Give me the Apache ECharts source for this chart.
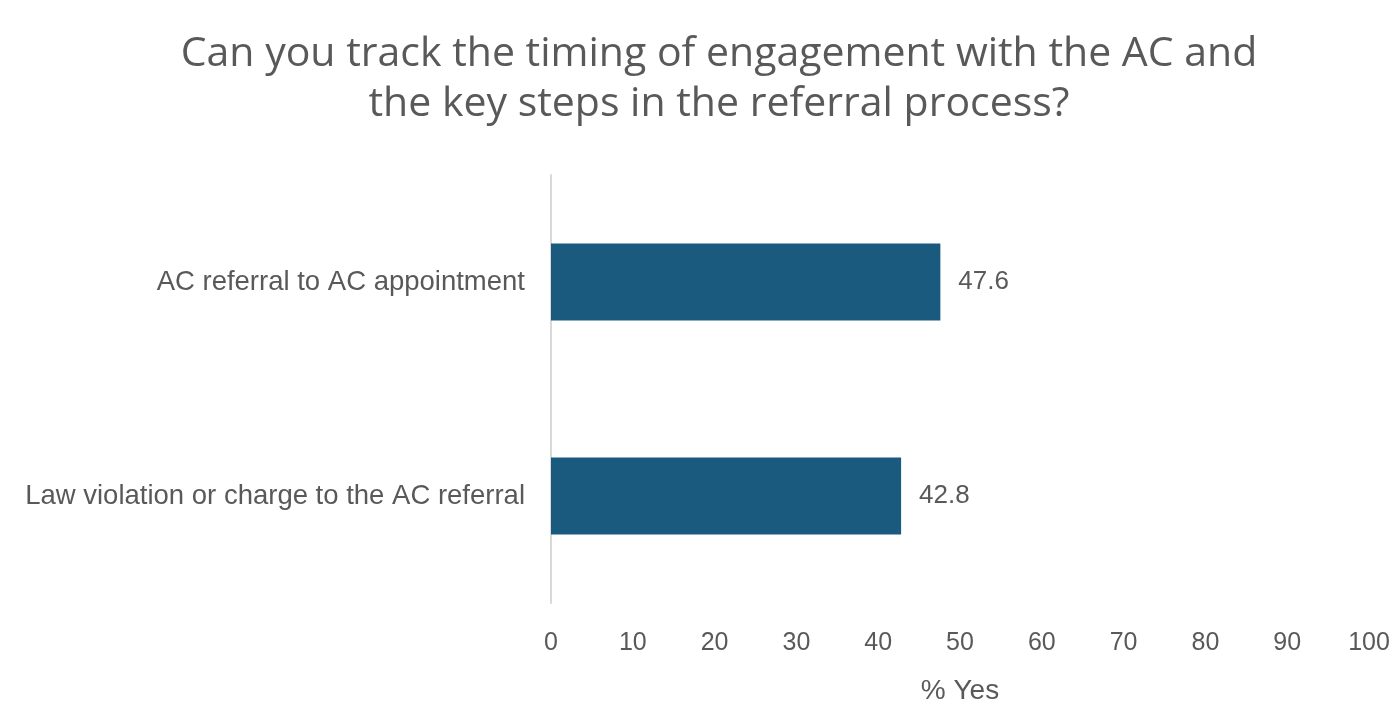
<!DOCTYPE html>
<html>
<head>
<meta charset="utf-8">
<script src="https://cdn.jsdelivr.net/npm/echarts@6/dist/echarts.min.js"></script>
<style>
  html, body { margin: 0; padding: 0; background: #ffffff; }
  #chart { width: 1398px; height: 710px; }
</style>
</head>
<body>
<div id="chart"></div>
<script>
// Survey question shown as the chart heading
const titleLines = [
  'Can you track the timing of engagement with the AC and',
  'the key steps in the referral process?'
];
// Bar categories, listed bottom to top for the category axis
const categories = [
  'Law violation or charge to the AC referral',
  'AC referral to AC appointment'
];
// Percentage answering "Yes"
const yesPercent = [42.8, 47.6];
const xAxisName = '% Yes';

const textGray = '#595959';
const labelFont = '"Liberation Sans", Arial, sans-serif';

const chart = echarts.init(document.getElementById('chart'));
chart.setOption({
  animation: false,
  backgroundColor: '#ffffff',
  title: {
    text: titleLines.join('\n'),
    left: 714,
    textAlign: 'center',
    top: 24,
    textStyle: {
      fontFamily: '"Open Sans", "Noto Sans", sans-serif',
      fontSize: 41,
      fontWeight: 'normal',
      color: textGray,
      lineHeight: 50
    }
  },
  grid: { left: 551, right: 29, top: 175, bottom: 94, containLabel: false },
  xAxis: {
    type: 'value',
    min: 0,
    max: 100,
    interval: 10,
    name: xAxisName,
    nameLocation: 'middle',
    nameGap: 74,
    nameTextStyle: { fontFamily: labelFont, fontSize: 28, color: textGray },
    axisLine: { show: false },
    axisTick: { show: false },
    splitLine: { show: false },
    axisLabel: { margin: 28, fontFamily: labelFont, fontSize: 25, color: textGray }
  },
  yAxis: {
    type: 'category',
    data: categories,
    axisLine: { show: true, lineStyle: { color: '#d9d9d9', width: 2 } },
    axisTick: { show: false },
    axisLabel: { margin: 26, fontFamily: labelFont, fontSize: 27.5, color: textGray }
  },
  series: [{
    type: 'bar',
    data: yesPercent,
    barWidth: 77,
    itemStyle: { color: '#1a5a7e' },
    label: {
      show: true,
      position: 'right',
      distance: 18,
      fontFamily: labelFont,
      fontSize: 26,
      color: textGray,
      formatter: p => p.value.toFixed(1)
    }
  }]
});
</script>
</body>
</html>
